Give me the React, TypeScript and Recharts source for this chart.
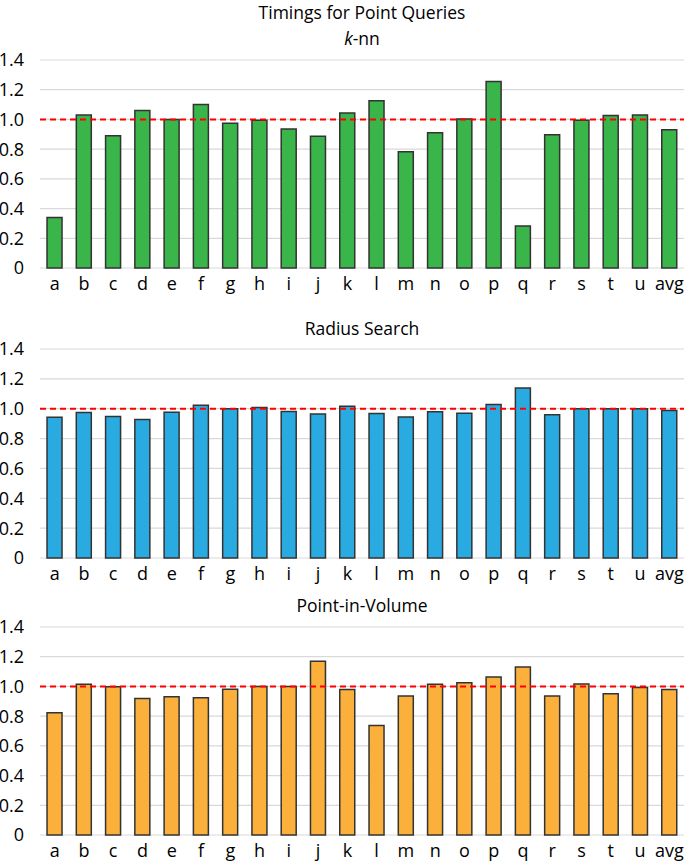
import React from "react";
import { BarChart, Bar, XAxis, YAxis, CartesianGrid, ReferenceLine } from "recharts";

const categories = ["a", "b", "c", "d", "e", "f", "g", "h", "i", "j", "k", "l", "m", "n", "o", "p", "q", "r", "s", "t", "u", "avg"];

const knnValues = [0.34, 1.03, 0.89, 1.06, 1.0, 1.1, 0.975, 0.995, 0.935, 0.886, 1.043, 1.126, 0.783, 0.91, 1.003, 1.256, 0.283, 0.897, 0.995, 1.027, 1.03, 0.93];
const radiusValues = [0.943, 0.974, 0.948, 0.927, 0.977, 1.024, 1.0, 1.008, 0.981, 0.965, 1.017, 0.968, 0.945, 0.979, 0.97, 1.028, 1.138, 0.959, 1.0, 0.999, 1.0, 0.988];
const pivValues = [0.822, 1.015, 0.997, 0.918, 0.93, 0.923, 0.981, 1.0, 1.0, 1.169, 0.979, 0.737, 0.936, 1.015, 1.024, 1.064, 1.131, 0.936, 1.017, 0.95, 0.992, 0.979];

const yTicks = [0, 0.2, 0.4, 0.6, 0.8, 1.0, 1.2, 1.4];

const FONT = "'Open Sans', sans-serif";

interface PanelProps {
  values: number[];
  color: string;
  top: number;
  height: number;
  marginTop: number;
}

function Panel({ values, color, top, height, marginTop }: PanelProps) {
  const data = categories.map((name, i) => ({ name, value: values[i] }));
  return (
    <div style={{ position: "absolute", left: 0, top }}>
      <BarChart
        width={685}
        height={height}
        data={data}
        margin={{ top: marginTop, right: 1, bottom: 0, left: 0 }}
        barCategoryGap="24%"
      >
        <CartesianGrid vertical={false} stroke="#d9d9d9" strokeWidth={1.2} />
        <XAxis
          dataKey="name"
          axisLine={false}
          tickLine={false}
          interval={0}
          height={30}
          tickMargin={3}
          tick={{ fill: "#000", fontSize: 18, fontFamily: FONT }}
        />
        <YAxis
          domain={[0, 1.4]}
          ticks={yTicks}
          axisLine={false}
          tickLine={false}
          width={40}
          tickMargin={10}
          tickFormatter={(v: number) => (v === 0 ? "0" : v.toFixed(1))}
          tick={{ fill: "#000", fontSize: 18, fontFamily: FONT }}
        />
        <Bar dataKey="value" fill={color} stroke="#333" strokeWidth={1.5} isAnimationActive={false} />
        <ReferenceLine y={1} stroke="#ff0000" strokeWidth={2} strokeDasharray="6 4" />
      </BarChart>
    </div>
  );
}

const titleStyle: React.CSSProperties = {
  position: "absolute",
  left: 40,
  width: 644,
  textAlign: "center",
  fontFamily: FONT,
  fontSize: 17.5,
  lineHeight: "14px",
  color: "#000",
  whiteSpace: "nowrap",
};

export default function App() {
  return (
    <div style={{ position: "absolute", left: 0, top: 0, width: 685, height: 862, background: "#fff", overflow: "hidden" }}>
      <div style={{ ...titleStyle, top: 5 }}>Timings for Point Queries</div>
      <div style={{ ...titleStyle, top: 31 }}>
        <i>k</i>-nn
      </div>
      <Panel values={knnValues} color="#39b54a" top={0} height={298} marginTop={60} />
      <div style={{ ...titleStyle, top: 321 }}>Radius Search</div>
      <Panel values={radiusValues} color="#29abe2" top={300} height={288} marginTop={49} />
      <div style={{ ...titleStyle, top: 598 }}>Point-in-Volume</div>
      <Panel values={pivValues} color="#fbb03b" top={590} height={275} marginTop={37} />
    </div>
  );
}
